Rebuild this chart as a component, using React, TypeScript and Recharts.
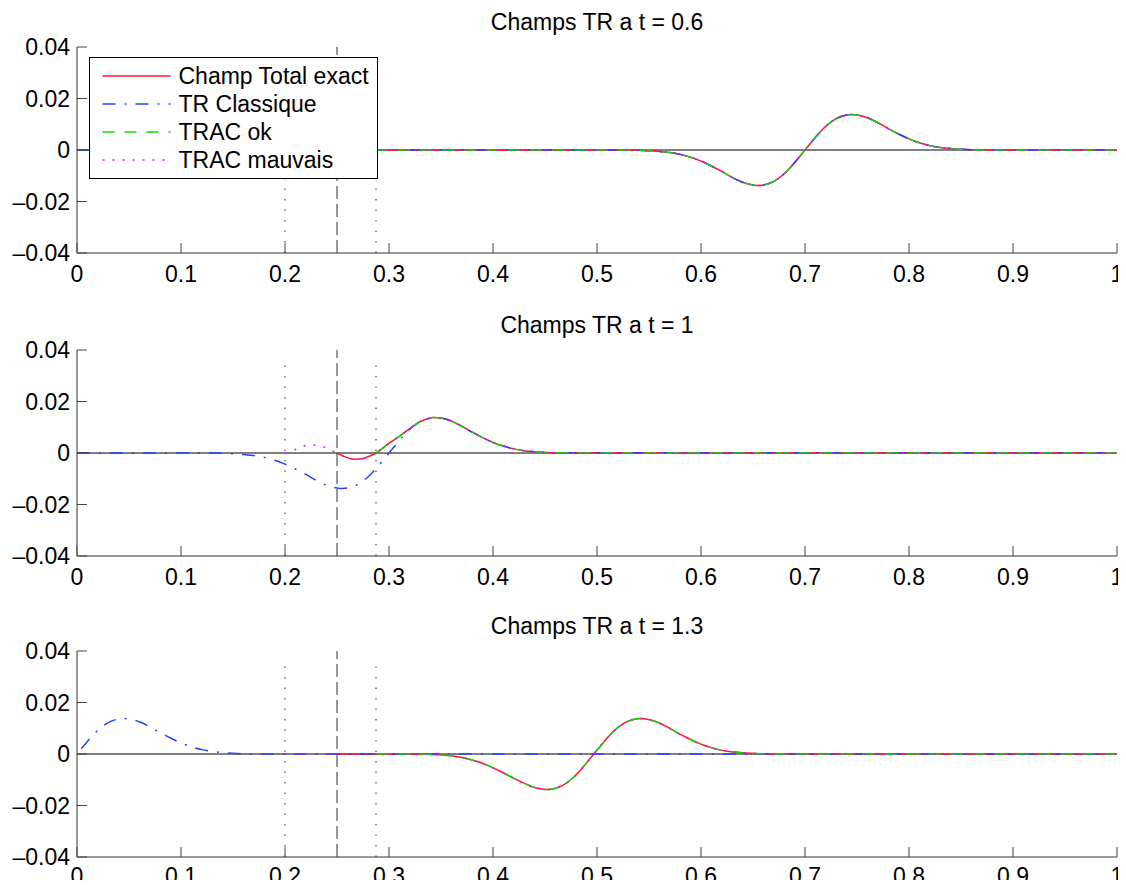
import React from 'react';
import { LineChart, Line, XAxis, YAxis, ReferenceLine } from 'recharts';

// axes
const xTicks = [0, 0.1, 0.2, 0.3, 0.4, 0.5, 0.6, 0.7, 0.8, 0.9, 1];
const yTicks = [-0.04, -0.02, 0, 0.02, 0.04];
const titles = ['Champs TR a t = 0.6', 'Champs TR a t = 1', 'Champs TR a t = 1.3'];
const seriesNames = ['Champ Total exact', 'TR Classique', 'TRAC ok', 'TRAC mauvais'];

// interfaces of the TR zone
const dottedX = [0.2, 0.2875];
const dashedX = [0.25];

// where each series starts along x
const exactFrom = 0.25;
const okFrom = 0.2875;
const mauvaisFrom = 0.2;

// black zero line
const baselineX = [0, 1];
const baselineY = [0, 0];

// t = 0.6 : all four series coincide
const t06X = [0.53, 0.54, 0.55, 0.56, 0.57, 0.58, 0.59, 0.6, 0.61, 0.62, 0.63, 0.64, 0.65, 0.655, 0.66, 0.67, 0.68, 0.69, 0.7, 0.71, 0.72, 0.73, 0.74, 0.745, 0.75, 0.76, 0.77, 0.78, 0.79, 0.8, 0.81, 0.82, 0.83, 0.84, 0.85, 0.86, 0.87, 1];
const t06Field = [0, -0.0001, -0.0003, -0.0006, -0.001, -0.0017, -0.0028, -0.0043, -0.0062, -0.0083, -0.0106, -0.0125, -0.0136, -0.0138, -0.0136, -0.0122, -0.0092, -0.0049, 0, 0.0049, 0.0092, 0.0122, 0.0136, 0.0138, 0.0136, 0.0125, 0.0106, 0.0083, 0.0062, 0.0043, 0.0028, 0.0017, 0.001, 0.0006, 0.0003, 0.0001, 0, 0];

// t = 1
const t1ExactX = [0.25, 0.255, 0.26, 0.267, 0.275, 0.28, 0.2875, 0.295, 0.3, 0.31, 0.32, 0.33, 0.34, 0.343, 0.35, 0.36, 0.37, 0.38, 0.39, 0.4, 0.41, 0.42, 0.43, 0.44, 0.45, 0.46, 0.47, 1];
const t1Exact = [0, -0.001, -0.0018, -0.0024, -0.0021, -0.0014, 0, 0.0022, 0.0038, 0.0065, 0.0095, 0.0122, 0.0136, 0.0138, 0.0136, 0.0124, 0.0104, 0.0081, 0.006, 0.0041, 0.0027, 0.0016, 0.0009, 0.0005, 0.0002, 0.0001, 0, 0];
const t1ClassiqueX = [0, 0.13, 0.14, 0.15, 0.16, 0.17, 0.18, 0.19, 0.2, 0.21, 0.22, 0.23, 0.24, 0.25, 0.255, 0.26, 0.27, 0.28, 0.29, 0.3, 0.31, 0.32, 0.33, 0.34, 0.345, 0.35, 0.36, 0.37, 0.38, 0.39, 0.4, 0.41, 0.42, 0.43, 0.44, 0.45, 0.46, 0.47, 1];
const t1Classique = [0, 0, -0.0001, -0.0003, -0.0006, -0.001, -0.0017, -0.0028, -0.0043, -0.0062, -0.0083, -0.0106, -0.0125, -0.0136, -0.0138, -0.0136, -0.0122, -0.0092, -0.0049, 0, 0.0049, 0.0092, 0.0122, 0.0136, 0.0138, 0.0136, 0.0124, 0.0104, 0.0081, 0.006, 0.0041, 0.0027, 0.0016, 0.0009, 0.0005, 0.0002, 0.0001, 0, 0];
const t1MauvaisX = [0.2, 0.206, 0.212, 0.218, 0.225, 0.232, 0.238, 0.244, 0.25];
const t1Mauvais = [0, 0.0005, 0.0017, 0.0027, 0.0031, 0.0029, 0.0023, 0.0011, 0];

// t = 1.3
const t13ExactX = [0.25, 0.327, 0.337, 0.347, 0.357, 0.367, 0.377, 0.387, 0.397, 0.407, 0.417, 0.427, 0.437, 0.447, 0.452, 0.457, 0.467, 0.477, 0.487, 0.497, 0.507, 0.517, 0.527, 0.537, 0.542, 0.547, 0.557, 0.567, 0.577, 0.587, 0.597, 0.607, 0.617, 0.627, 0.637, 0.647, 0.657, 0.667, 1];
const t13Exact = [0, 0, -0.0001, -0.0003, -0.0006, -0.0012, -0.002, -0.0032, -0.0048, -0.0067, -0.0088, -0.0108, -0.0126, -0.0136, -0.0138, -0.0136, -0.0122, -0.0092, -0.0049, 0, 0.0049, 0.0092, 0.0122, 0.0136, 0.0138, 0.0136, 0.0125, 0.0106, 0.0083, 0.0062, 0.0043, 0.0028, 0.0017, 0.001, 0.0006, 0.0003, 0.0001, 0, 0];
const t13ClassiqueX = [0.004, 0.01, 0.02, 0.03, 0.04, 0.045, 0.05, 0.06, 0.07, 0.08, 0.09, 0.1, 0.11, 0.12, 0.13, 0.14, 0.15, 0.16, 0.17, 1];
const t13Classique = [0.002, 0.0049, 0.0092, 0.0122, 0.0136, 0.0138, 0.0136, 0.0125, 0.0106, 0.0083, 0.0062, 0.0043, 0.0028, 0.0017, 0.001, 0.0006, 0.0003, 0.0001, 0, 0];

type Pt = { x: number; y: number };

const zip = (xs: number[], ys: number[]): Pt[] => xs.map((x, i) => ({ x, y: ys[i] }));

// series restricted to x >= from, starting on the zero line
function from(pts: Pt[], x0: number): Pt[] {
  const rest = pts.filter((p) => p.x >= x0);
  if (rest.length && rest[0].x > x0) return [{ x: x0, y: 0 }, ...rest];
  return rest;
}

const baseline = zip(baselineX, baselineY);
const t06 = zip(t06X, t06Field);
const t1 = zip(t1ExactX, t1Exact);
const t13 = zip(t13ExactX, t13Exact);

const panels = [
  {
    title: titles[0],
    top: 46.5,
    labelDy: 29,
    axisH: 36,
    exact: from(t06, exactFrom),
    classique: from(t06, 0),
    ok: from(t06, okFrom),
    mauvais: from(t06, mauvaisFrom),
  },
  {
    title: titles[1],
    top: 349.5,
    labelDy: 29,
    axisH: 36,
    exact: t1,
    classique: zip(t1ClassiqueX, t1Classique),
    ok: from(t1, okFrom),
    mauvais: [...zip(t1MauvaisX, t1Mauvais), ...t1.filter((p) => p.x > 0.25)],
  },
  {
    title: titles[2],
    top: 650.5,
    labelDy: 27,
    axisH: 31,
    exact: t13,
    classique: zip(t13ClassiqueX, t13Classique),
    ok: from(t13, okFrom),
    mauvais: from(t13, mauvaisFrom),
  },
];

const styles = [
  { key: 'exact', stroke: '#ff1a1a', dash: undefined as string | undefined },
  { key: 'classique', stroke: '#2244ff', dash: '13 9 2 9' },
  { key: 'ok', stroke: '#00e000', dash: '12 10' },
  { key: 'mauvais', stroke: '#ff00ff', dash: '2 8' },
];

const FONT = '"Liberation Sans", Arial, Helvetica, sans-serif';
const PLOT_LEFT = 77;
const PLOT_W = 1040;
const PLOT_H = 206;
const MARGIN_TOP = 40;
const LINE_W = 1.5;

const fmtY = (v: number) => (v < 0 ? '\u2013' + String(-v) : String(v));

function XTick(props: any) {
  const { x, y, payload, labelDy } = props;
  return (
    <g>
      <line x1={x} x2={x} y1={y} y2={y - 10} stroke="#444" strokeWidth={1} />
      <text x={x} y={y + labelDy} textAnchor="middle" fontSize={23} fontFamily={FONT} fill="#000">
        {String(payload.value)}
      </text>
    </g>
  );
}

function YTick(props: any) {
  const { x, y, payload } = props;
  return (
    <g>
      <line x1={x} x2={x + 10} y1={y} y2={y} stroke="#444" strokeWidth={1} />
      <text x={x - 7} y={y + 8} textAnchor="end" fontSize={23} fontFamily={FONT} fill="#000">
        {fmtY(payload.value)}
      </text>
    </g>
  );
}

function Panel({ p }: { p: (typeof panels)[number] }) {
  return (
    <div style={{ position: 'absolute', left: 0, top: p.top - MARGIN_TOP }}>
      <LineChart
        width={1126}
        height={MARGIN_TOP + PLOT_H + p.axisH}
        margin={{ top: MARGIN_TOP, right: 1126 - PLOT_LEFT - PLOT_W, bottom: 0, left: 0 }}
      >
        <XAxis
          dataKey="x"
          type="number"
          domain={[0, 1]}
          ticks={xTicks}
          interval={0}
          tickSize={0}
          tickMargin={0}
          tick={(t: any) => <XTick {...t} labelDy={p.labelDy} />}
          axisLine={{ stroke: '#333' }}
          height={p.axisH}
          allowDataOverflow
        />
        <YAxis
          type="number"
          domain={[-0.04, 0.04]}
          ticks={yTicks}
          interval={0}
          tickSize={0}
          tickMargin={0}
          tick={(t: any) => <YTick {...t} />}
          axisLine={{ stroke: '#333' }}
          width={PLOT_LEFT}
          allowDataOverflow
        />
        {dottedX.map((x) => (
          <ReferenceLine
            key={'d' + x}
            segment={[{ x, y: -0.04 }, { x, y: 0.037 }]}
            stroke="#222"
            strokeDasharray="1.5 9"
          />
        ))}
        {dashedX.map((x) => (
          <ReferenceLine
            key={'s' + x}
            segment={[{ x, y: -0.04 }, { x, y: 0.04 }]}
            stroke="#333"
            strokeDasharray="13 5"
          />
        ))}
        <Line
          data={baseline}
          dataKey="y"
          stroke="#000"
          strokeWidth={1}
          dot={false}
          activeDot={false}
          isAnimationActive={false}
        />
        {styles.map((s) => (
          <Line
            key={s.key}
            data={(p as any)[s.key]}
            dataKey="y"
            type="monotone"
            stroke={s.stroke}
            strokeWidth={LINE_W}
            strokeDasharray={s.dash}
            dot={false}
            activeDot={false}
            isAnimationActive={false}
          />
        ))}
      </LineChart>
    </div>
  );
}

export default function App() {
  const legendTop = 57.5;
  const legendLeft = 89.5;
  const rowY = [18, 46, 74, 102];
  return (
    <div
      style={{
        position: 'relative',
        width: 1126,
        height: 888,
        margin: -8,
        overflow: 'hidden',
        background: '#fff',
        fontFamily: FONT,
      }}
    >
      {panels.map((p) => (
        <Panel key={p.title} p={p} />
      ))}
      <svg
        width={1126}
        height={888}
        style={{ position: 'absolute', left: 0, top: 0, pointerEvents: 'none' }}
      >
        {panels.map((p) => (
          <text
            key={p.title}
            x={PLOT_LEFT + PLOT_W / 2}
            y={p.top - 17}
            textAnchor="middle"
            fontSize={23}
            fontFamily={FONT}
            fill="#000"
          >
            {p.title}
          </text>
        ))}
        <g transform={`translate(${legendLeft},${legendTop})`}>
          <rect x={0} y={0} width={288} height={121} fill="#fff" stroke="#000" strokeWidth={1} />
          {styles.map((s, i) => (
            <g key={s.key}>
              <line
                x1={13}
                x2={81}
                y1={rowY[i] + 0.5}
                y2={rowY[i] + 0.5}
                stroke={s.stroke}
                strokeWidth={LINE_W}
                strokeDasharray={s.dash}
              />
              <text x={89} y={rowY[i] + 8} fontSize={23} fontFamily={FONT} fill="#000">
                {seriesNames[i]}
              </text>
            </g>
          ))}
        </g>
      </svg>
    </div>
  );
}
